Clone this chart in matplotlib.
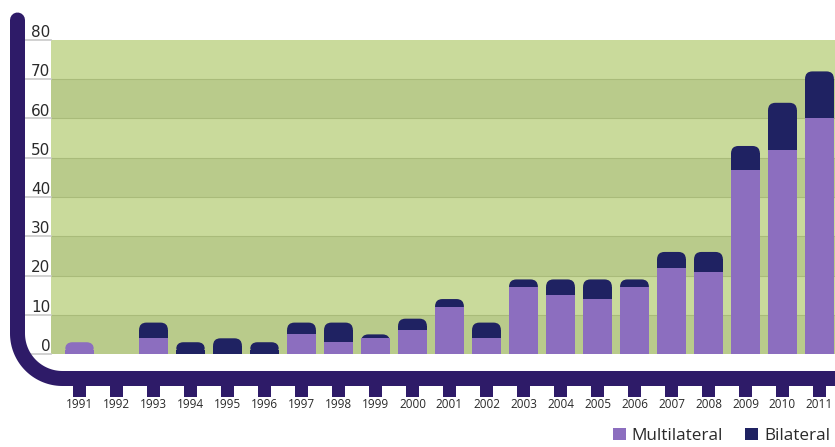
import numpy as np
import matplotlib
matplotlib.use("Agg")
import matplotlib.pyplot as plt
from matplotlib.patches import FancyBboxPatch, Rectangle, Patch
from matplotlib.transforms import blended_transform_factory

years = list(range(1991, 2012))
multilateral = [3, 0, 4, 0, 0, 0, 5, 3, 4, 6, 12, 4, 17, 15, 14, 17, 22, 21, 47, 52, 60]
bilateral = [0, 0, 4, 3, 4, 3, 3, 5, 1, 3, 2, 4, 2, 4, 5, 2, 4, 5, 6, 12, 12]
yticks = [0, 10, 20, 30, 40, 50, 60, 70, 80]
series_names = ["Multilateral", "Bilateral"]

C_MULTI = "#8c6ebf"
C_BI = "#1f2262"
C_FRAME = "#2e1b68"
C_LIGHT = "#c9da9b"
C_DARK = "#b9cb8b"
C_TEXT = "#2a2a2a"

plt.rcParams['font.family'] = ['Open Sans', 'DejaVu Sans']

W, H = 835, 447
fig = plt.figure(figsize=(W / 100, H / 100), dpi=100)
fig.patch.set_facecolor("white")

L, R_, T, B = 51, 835, 40, 354
ax = fig.add_axes([L / W, (H - B) / H, (R_ - L) / W, (B - T) / H])
x = np.arange(len(years))
ax.set_xlim(-0.77, 20.42)
ax.set_ylim(0, 80)

# background bands
for i in range(len(yticks) - 1):
    c = C_LIGHT if (len(yticks) - 2 - i) % 2 == 0 else C_DARK
    ax.axhspan(yticks[i], yticks[i + 1], color=c, lw=0, zorder=0)
for v in yticks[1:-1]:
    ax.axhline(v, color="#a9bb7a", lw=0.8, zorder=0.5)

# bars
bw = 0.78
rx = 0.2
ry = 1.9
for xi, m, b in zip(x, multilateral, bilateral):
    top = m + b
    if top <= 0:
        continue
    topc = C_BI if b > 0 else C_MULTI
    cap = FancyBboxPatch((xi - bw / 2, 0), bw, top,
                         boxstyle=f"round,pad=0,rounding_size={rx}",
                         mutation_aspect=ry / rx, facecolor=topc,
                         edgecolor="none", zorder=2)
    ax.add_patch(cap)
    ax.bar(xi, top - ry, width=bw, color=topc, zorder=2)
    if m > 0:
        ax.bar(xi, min(m, top - ry) if b == 0 else m, width=bw, color=C_MULTI, zorder=3)

for s in ax.spines.values():
    s.set_visible(False)

ax.set_xticks(x)
ax.set_xticklabels([str(y) for y in years], fontsize=8.5, color=C_TEXT)
ax.tick_params(axis='x', length=0, pad=32)
ax.set_yticks(yticks)
ax.set_yticklabels([str(v) for v in yticks], fontsize=11, color=C_TEXT,
                   va='bottom', family=['DejaVu Sans'])
ax.tick_params(axis='y', length=0, pad=0.5)

# small gray lines under y labels
tr = blended_transform_factory(ax.transAxes, ax.transData)
for v in yticks:
    ax.plot([-27 / (R_ - L), 0], [v, v], color="#c9c9c9", lw=1.2,
            transform=tr, clip_on=False, zorder=1)

# frame overlay
ov = fig.add_axes([0, 0, 1, 1])
ov.set_xlim(0, W)
ov.set_ylim(H, 0)
ov.axis('off')
ov.patch.set_alpha(0)
xc, yc, Rr = 17.5, 378.5, 45
ang = np.linspace(np.pi, np.pi / 2, 40)
px = np.concatenate([[xc], xc + Rr + Rr * np.cos(ang), [W + 20]])
py = np.concatenate([[20], yc - Rr + Rr * np.sin(ang), [yc]])
ov.plot(px, py, color=C_FRAME, lw=15 * 0.72, solid_capstyle='round',
        solid_joinstyle='round')
btr = blended_transform_factory(ax.transData, ov.transData)
for xi in x:
    ov.add_patch(Rectangle((xi - 0.18, 380), 0.36, 17, transform=btr,
                           facecolor=C_FRAME, edgecolor='none'))

# legend
handles = [Patch(facecolor=C_MULTI, edgecolor='none'),
           Patch(facecolor=C_BI, edgecolor='none')]
fig.legend(handles, series_names, loc='center left',
           bbox_to_anchor=(613 / W, (H - 436) / H), ncol=2, frameon=False,
           fontsize=12.3, handlelength=0.75, handleheight=0.75, handletextpad=0.35,
           columnspacing=1.3, borderpad=0, borderaxespad=0, labelcolor=C_TEXT)

fig.savefig("out.png", dpi=100)
